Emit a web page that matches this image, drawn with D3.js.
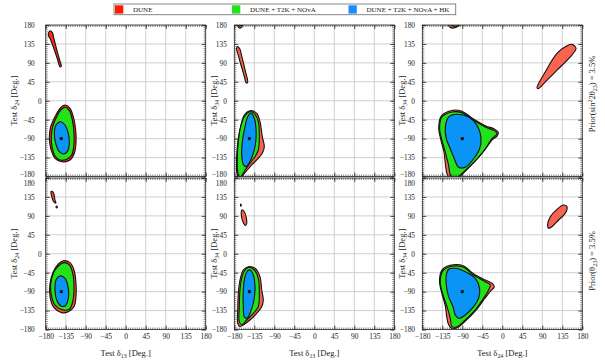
<!DOCTYPE html>
<html>
<head>
<meta charset="utf-8">
<script src="https://cdn.jsdelivr.net/npm/d3@7"></script>
<style>
body{margin:0;background:#fff}
text{font-family:"Liberation Serif","DejaVu Serif",serif;fill:#222}
</style>
</head>
<body>
<div id="root"></div>
<script>
const w = 605, h = 361

// ticks
const majorTicks = [-180, -135, -90, -45, 0, 45, 90, 135, 180]
const minorTicks = d3.range(-180, 181, 5)

// legend
const legendLabels = ["DUNE", "DUNE + T2K + NOvA", "DUNE + T2K + NOvA + HK"]
const legendColors = ["#ff1a00", "#22e21a", "#1a8cff"]

// axis subscripts per column
const xSubs = ["13", "13", "24"]
const ySubs = ["24", "34", "34"]

// DUNE colour per panel (the upper-left one is brighter)
const redColors = ["#ff2a10", "#f5614b", "#f8644f", "#f54a34", "#f5614b", "#f8644f"]
const greenColor = "#22e21a"
const blueColor = "#0a94f5"

// true point [x, y] per panel
const bestFit = [[-145, -90], [-146, -90], [-90, -90], [-145, -90], [-146, -90], [-90, -90]]

// ---- contours, in degrees ----
// top-left (d13, d24)
const p1Red = [[-136.6,-10.1],[-125.3,-17.9],[-117.9,-37.9],[-112.5,-69.5],[-111.8,-101.1],[-115.6,-124.8],[-125.3,-140.8],[-144,-144.8],[-159.1,-136.7],[-166.5,-121],[-170.3,-105.1],[-171.9,-85.4],[-168.8,-61.6],[-159.1,-37.9],[-147.8,-17.9]]
const p1RedIsland = [[-171,166],[-165,162],[-162,150],[-156,125],[-149,98],[-145,82],[-148,81],[-154,100],[-162,125],[-169,145],[-174,156]]
const p1Green = [[-136.6,-15.5],[-126.9,-23.6],[-120.1,-45.7],[-116.3,-77.3],[-117,-109.2],[-121.5,-128.9],[-132.7,-139.1],[-147.8,-140.8],[-159.1,-131.3],[-165.8,-109.2],[-167.4,-85.4],[-164.3,-61.6],[-155.3,-37.9],[-146.3,-22]]
const p1Blue = [[-146.3,-49.8],[-136.6,-57.6],[-129.1,-77.3],[-126.9,-101.1],[-131.4,-121],[-140.4,-126.5],[-149.4,-121],[-157.5,-101.1],[-160.6,-77.3],[-156.8,-57.6]]

// top-middle (d13, d34)
const p2Red = [[-144.7,-23.6],[-129.6,-29.8],[-122.2,-49.8],[-117,-85.4],[-112.5,-109.2],[-117,-124.8],[-126,-136.7],[-140.8,-152.6],[-159.8,-176.4],[-164,-186],[-170,-186],[-174.6,-168.6],[-174.6,-128.9],[-171,-89.2],[-164.9,-57.6],[-157.5,-33.8]]
const p2RedIsland = [[-173,129],[-168,124],[-163,105],[-155,70],[-150,44],[-153,42],[-158,60],[-165,85],[-171,108],[-175,124]]
const p2Green = [[-144.7,-26],[-133.4,-32.2],[-126,-49.8],[-123.75,-81.4],[-126,-117],[-133.4,-132.9],[-144.7,-148.6],[-155.9,-164.5],[-163,-178],[-168,-182],[-172.4,-168.6],[-173.25,-136.7],[-171,-97.3],[-165.6,-61.6],[-157.5,-37.9]]
const p2Blue = [[-142.4,-29.8],[-135,-41.7],[-131.2,-65.4],[-131.8,-97.3],[-137.2,-124.8],[-146.9,-148.6],[-154.3,-156.7],[-159.8,-151],[-163.4,-128.9],[-162,-97.3],[-155.9,-61.6],[-149.8,-37.9]]

// top-right (d24, d34)
const p3Red = [[-137,-36],[-114,-23],[-91,-25],[-64,-44],[-37,-60],[-18,-67],[-9,-76],[-12,-84],[-23,-93],[-38,-115],[-57,-139],[-78,-162],[-98,-182],[-108,-187],[-117,-186],[-124,-175],[-128,-152],[-131,-123],[-138,-94],[-143,-66]]
const p3RedIsland = [[78.1,30.5],[96.8,68.7],[123.1,112.5],[145.6,130.6],[156.8,134],[165.9,124.4],[153,104.4],[123.1,72.7],[96.8,44.8],[81.7,29]]
const p3Green = [[-135.7,-38.7],[-113.2,-26.7],[-90.7,-28.2],[-64.6,-46.5],[-38.2,-62.5],[-19.6,-70.4],[-11.9,-78.2],[-23.2,-90.2],[-38.2,-114],[-56.9,-137.9],[-79.4,-161.7],[-96,-178],[-103,-183],[-112,-182],[-117,-176],[-120.8,-153.8],[-128.2,-122.1],[-135.7,-94.2],[-141.1,-66.3]]
const p3Blue = [[-120.8,-38.7],[-101.9,-32.2],[-75.8,-38.7],[-56.9,-58.5],[-47.9,-90.2],[-51.1,-114],[-64.6,-137.9],[-83.2,-157.9],[-98.3,-157.9],[-108,-137.9],[-117,-114],[-126,-90.2],[-128.2,-62.5]]

// bottom-left (d13, d24)
const p4Red = [[-140.4,-16.5],[-125.3,-21.2],[-116.3,-38.6],[-111.8,-70.2],[-111.8,-102],[-116.3,-125.8],[-129.1,-137.7],[-144,-140],[-162.9,-125.8],[-170.3,-102],[-170.3,-70.2],[-162.9,-42.6],[-151.6,-24.3]]
const p4RedIsland = [[-168,148],[-163,146],[-159,127],[-157,121],[-161,122],[-167,138]]
const p4RedDot = [[-156,113],[-154,112],[-154.5,109],[-156.5,110]]
const p4Green = [[-138.8,-21.2],[-126.9,-26.7],[-119.2,-46.4],[-116.3,-78.3],[-119.2,-113.9],[-126.9,-132],[-140.4,-133.6],[-159.1,-121.8],[-166.5,-102],[-168.8,-74.2],[-162.9,-46.4],[-151.6,-29.1]]
const p4Blue = [[-147.8,-52.8],[-136.6,-58.3],[-129.1,-82.1],[-129.1,-105.8],[-136.6,-124.1],[-145.6,-124.1],[-155.3,-109.9],[-159.1,-86.1],[-156.8,-62.4]]

// bottom-middle (d13, d34)
const p5Red = [[-148.5,-30.8],[-133.4,-34.6],[-122.2,-54.5],[-118.35,-86.1],[-114.75,-109.9],[-118.35,-125.8],[-129.6,-141.5],[-144.7,-157.4],[-159.75,-169.3],[-167.2,-173.3],[-172.35,-165.2],[-172.35,-133.6],[-171,-94],[-167.2,-62.4],[-159.75,-38.6]]
const p5RedIsland = [[-163,104],[-158,101],[-153,86],[-152,72],[-155,67],[-159,72],[-164,90]]
const p5RedDot = [[-166,117],[-165,118],[-164.5,114],[-165.5,113]]
const p5Green = [[-146.9,-32.2],[-135,-38.6],[-126,-58.3],[-123.75,-94],[-126,-125.8],[-137.25,-141.5],[-152.1,-157.4],[-163.35,-169.3],[-168.75,-161.4],[-168.75,-125.8],[-167.2,-86.1],[-163.35,-58.3],[-155.9,-38.6]]
const p5Blue = [[-144.7,-38.6],[-137.25,-50.5],[-133.4,-78.3],[-135.7,-109.9],[-144.7,-141.5],[-152.1,-153.4],[-157.5,-149.6],[-159.75,-125.8],[-159.75,-86.1],[-155.9,-54.5],[-149.85,-40.3]]

// bottom-right (d24, d34)
const p6Red = [[-134,-36],[-110,-26],[-87,-29],[-64,-48],[-37,-63],[-22,-71],[-18,-79],[-26,-88],[-40,-107],[-59,-134],[-82,-159],[-100,-175],[-113,-178],[-121,-168],[-125,-150],[-128,-125],[-135,-98],[-141,-70],[-140,-50]]
const p6RedIsland = [[101.9,68.3],[108,88],[123.1,105.6],[137.9,115.8],[145.6,111.8],[141.75,96.1],[126.7,80.2],[111.8,64.3],[104.2,60.5]]
const p6Green = [[-132.1,-38.6],[-109.6,-29.1],[-87.1,-32.2],[-64.6,-50.5],[-38.25,-66.4],[-27,-74.2],[-30.8,-86.1],[-42.1,-105.8],[-60.75,-133.6],[-83.25,-157.4],[-101.9,-173.3],[-113.2,-173.3],[-117,-153.4],[-124.4,-125.8],[-133.4,-98],[-139.5,-70.2],[-137.9,-50.5]]
const p6Blue = [[-120.8,-36.9],[-105.75,-34.6],[-83.25,-42.6],[-60.75,-58.3],[-51.1,-82.1],[-53.3,-105.8],[-64.6,-125.8],[-83.25,-145.5],[-98.3,-153.4],[-105.75,-145.5],[-110.9,-125.8],[-120.8,-102],[-126,-74.2],[-126,-50.5]]

const panels = [
    {red: [p1Red, p1RedIsland], green: [p1Green], blue: [p1Blue]},
    {red: [p2Red, p2RedIsland], green: [p2Green], blue: [p2Blue]},
    {red: [p3Red, p3RedIsland], green: [p3Green], blue: [p3Blue]},
    {red: [p4Red, p4RedIsland, p4RedDot], green: [p4Green], blue: [p4Blue]},
    {red: [p5Red, p5RedIsland, p5RedDot], green: [p5Green], blue: [p5Blue]},
    {red: [p6Red, p6RedIsland], green: [p6Green], blue: [p6Blue]},
]

//layout
const panelW = 160, panelH = 151.5
const colX = [45.7, 234.3, 422.3]
const rowY = [25, 178]
const labelGap = [11, 7.5, 7.3]

const svg = d3.select("#root").append("svg")
    .attr("width", w)
    .attr("height", h)

const x = d3.scaleLinear().domain([-180, 180]).range([0, panelW])
const y = d3.scaleLinear().domain([-180, 180]).range([panelH, 0])

const line = d3.line()
    .x(d => x(d[0]))
    .y(d => y(d[1]))
    .curve(d3.curveCatmullRomClosed.alpha(0.5))

function subText(sel, pre, sub, post, size) {
    sel.append("tspan").text(pre)
    sel.append("tspan").attr("font-size", size * 0.7).attr("dy", 2).text(sub)
    sel.append("tspan").attr("dy", -2).text(post)
}

panels.forEach((p, i) => {
    const col = i % 3, row = Math.floor(i / 3)
    const g = svg.append("g").attr("transform", `translate(${colX[col]},${rowY[row]})`)

    g.append("clipPath").attr("id", "clip" + i)
        .append("rect").attr("width", panelW).attr("height", panelH)

    // grid
    g.append("g").selectAll("line.gx").data(majorTicks.slice(1, -1)).enter().append("line")
        .attr("x1", d => x(d)).attr("x2", d => x(d))
        .attr("y1", 0).attr("y2", panelH)
        .attr("stroke", "#c9c9c9").attr("stroke-width", 0.9)
    g.append("g").selectAll("line.gy").data(majorTicks.slice(1, -1)).enter().append("line")
        .attr("y1", d => y(d)).attr("y2", d => y(d))
        .attr("x1", 0).attr("x2", panelW)
        .attr("stroke", "#c9c9c9").attr("stroke-width", 0.9)

    // contours (shifted copy by +360 where they wrap through -180)
    const plot = g.append("g").attr("clip-path", `url(#clip${i})`)
    const layers = [[p.red, redColors[i]], [p.green, greenColor], [p.blue, blueColor]]
    layers.forEach(([shapes, color]) => {
        shapes.forEach(pts => {
            const shifts = d3.min(pts, d => d[1]) < -180 ? [0, 360] : [0]
            shifts.forEach(s => {
                plot.append("path")
                    .datum(pts.map(d => [d[0], d[1] + s]))
                    .attr("d", line)
                    .attr("fill", color)
                    .attr("stroke", "#111")
                    .attr("stroke-width", 1.1)
            })
        })
    })

    plot.append("rect")
        .attr("x", x(bestFit[i][0]) - 1.5).attr("y", y(bestFit[i][1]) - 1.5)
        .attr("width", 3).attr("height", 3)
        .attr("fill", "#111")

    // ticks on all four sides, pointing in
    const sides = [
        [d3.axisLeft(y), "translate(0,0)"],
        [d3.axisRight(y), `translate(${panelW},0)`],
        [d3.axisBottom(x), `translate(0,${panelH})`],
        [d3.axisTop(x), "translate(0,0)"],
    ]
    sides.forEach(([ax, tr]) => {
        g.append("g").attr("transform", tr)
            .call(ax.tickValues(minorTicks).tickSize(-2).tickFormat(""))
            .call(s => s.select(".domain").remove())
            .call(s => s.selectAll("line").attr("stroke", "#333").attr("stroke-width", 0.6))
        g.append("g").attr("transform", tr)
            .call(ax.tickValues(majorTicks).tickSize(-4).tickFormat(""))
            .call(s => s.select(".domain").remove())
            .call(s => s.selectAll("line").attr("stroke", "#222").attr("stroke-width", 0.8))
    })

    // y tick labels
    const yl = g.append("g")
        .call(d3.axisLeft(y).tickValues(majorTicks).tickSize(0).tickPadding(labelGap[col]))
    yl.select(".domain").remove()
    yl.selectAll("text")
        .attr("font-size", 7.3)
        .attr("font-family", "Liberation Serif")
        .attr("fill", "#222")
        .attr("dy", d => {
            if (row === 0 && d === -180) return "-0.05em"
            if (row === 1 && d === 180) return "1.05em"
            return "0.32em"
        })
        .attr("x", d => (col === 0 && d === 0) ? -4 : -labelGap[col])

    // x tick labels on bottom row
    if (row === 1) {
        const xl = g.append("g").attr("transform", `translate(0,${panelH})`)
            .call(d3.axisBottom(x).tickValues(majorTicks).tickSize(0).tickPadding(4))
        xl.select(".domain").remove()
        xl.selectAll("text")
            .attr("font-size", 7.5)
            .attr("font-family", "Liberation Serif")
            .attr("fill", "#222")

        g.append("text")
            .attr("x", panelW / 2).attr("y", panelH + 26)
            .attr("text-anchor", "middle")
            .attr("font-size", 8.5)
            .call(subText, "Test δ", xSubs[col], " [Deg.]", 8.5)
    }

    // y title
    g.append("text")
        .attr("transform", `translate(${[-29, -17.6, -17.3][col]},${panelH / 2}) rotate(-90)`)
        .attr("text-anchor", "middle")
        .attr("font-size", 8.5)
        .call(subText, "Test δ", ySubs[col], " [Deg.]", 8.5)

    // frame
    g.append("rect")
        .attr("width", panelW).attr("height", panelH)
        .attr("fill", "none").attr("stroke", "#222").attr("stroke-width", 0.8)
})

// row labels on the right
const r1 = svg.append("text")
    .attr("transform", "translate(595,94) rotate(-90)")
    .attr("text-anchor", "middle").attr("font-size", 8.5)
r1.append("tspan").text("Prior(sin")
r1.append("tspan").attr("font-size", 6).attr("dy", -3).text("2")
r1.append("tspan").attr("dy", 3).text("2θ")
r1.append("tspan").attr("font-size", 6).attr("dy", 2).text("23")
r1.append("tspan").attr("dy", -2).text(") = 3.5%")

const r2 = svg.append("text")
    .attr("transform", "translate(595,261) rotate(-90)")
    .attr("text-anchor", "middle").attr("font-size", 8.5)
r2.append("tspan").text("Prior(θ")
r2.append("tspan").attr("font-size", 6).attr("dy", 2).text("23")
r2.append("tspan").attr("dy", -2).text(") = 3.5%")

// legend
const legend = svg.append("g")
legend.append("rect")
    .attr("x", 114).attr("y", 4).attr("width", 341.7).attr("height", 10.7)
    .attr("fill", "#fff").attr("stroke", "#777").attr("stroke-width", 0.9)
const legendX = [115, 232, 348.5]
legendLabels.forEach((d, i) => {
    legend.append("rect")
        .attr("x", legendX[i]).attr("y", 5.3).attr("width", 8.3).attr("height", 8.3)
        .attr("fill", legendColors[i])
    legend.append("text")
        .attr("x", legendX[i] + 18).attr("y", 12.2)
        .attr("font-size", 7)
        .text(d)
})
</script>
</body>
</html>
